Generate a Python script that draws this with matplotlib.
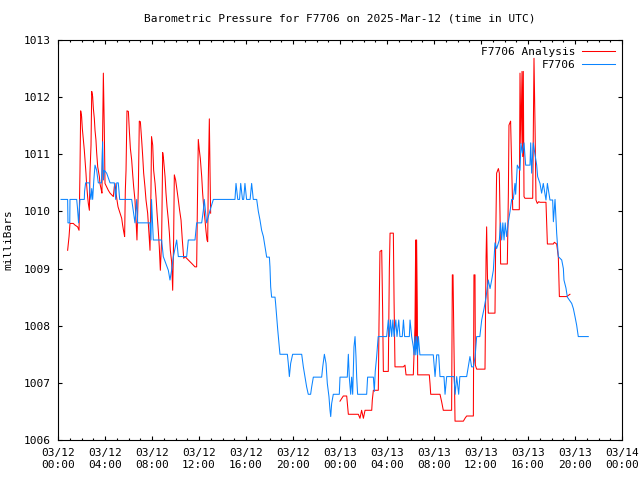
import matplotlib
matplotlib.use("Agg")
import matplotlib.pyplot as plt
import matplotlib.dates as mdates
import pandas as pd

plt.rcParams['font.family'] = ['DejaVu Sans Mono']

start = pd.Timestamp('2025-03-12 00:00')
end = pd.Timestamp('2025-03-14 00:00')

# hours after 03/12 00:00 UTC, pressure in mb
anal_hours_1 = [0.82, 0.94, 1.02, 1.30, 1.45, 1.67, 1.79, 1.87, 1.93, 2.01, 2.07, 2.16, 2.24, 2.30,
                2.38, 2.44, 2.52, 2.58, 2.67, 2.72, 2.81, 2.87, 2.95, 3.01, 3.09, 3.15, 3.23, 3.29,
                3.38, 3.52, 3.57, 3.66, 3.74, 3.80, 3.86, 3.94, 4.00, 4.14, 4.28, 4.43, 4.57, 4.71,
                4.79, 4.85, 4.94, 5.02, 5.11, 5.28, 5.42, 5.50, 5.59, 5.67, 5.73, 5.79, 5.87, 5.99,
                6.07, 6.16, 6.27, 6.36, 6.44, 6.55, 6.64, 6.72, 6.84, 6.92, 7.01, 7.12, 7.21, 7.29,
                7.40, 7.49, 7.63, 7.74, 7.83, 7.91, 7.96, 8.06, 8.14, 8.26, 8.34, 8.43, 8.54, 8.62,
                8.71, 8.82, 8.91, 8.99, 9.11, 9.19, 9.28, 9.39, 9.48, 9.56, 9.67, 9.76, 9.84, 9.90,
                10.01, 10.13, 10.24, 10.35, 10.47, 10.58, 10.70, 10.81, 11.09, 11.38, 11.66, 11.80,
                11.86, 11.94, 12.03, 12.11, 12.23, 12.31, 12.40, 12.51, 12.60, 12.68, 12.74, 12.79,
                12.88, 12.94, 12.99]
anal_mb_1 = [1009.32, 1009.56, 1009.79, 1009.79, 1009.76, 1009.73, 1009.67, 1010.70, 1011.76, 1011.66,
             1011.45, 1011.25, 1011.07, 1010.90, 1010.67, 1010.46, 1010.26, 1010.14, 1010.02, 1010.67,
             1011.16, 1012.10, 1012.01, 1011.80, 1011.63, 1011.42, 1011.25, 1011.03, 1010.78, 1010.61,
             1010.49, 1010.40, 1010.32, 1011.37, 1012.42, 1011.45, 1010.49, 1010.43, 1010.37, 1010.32,
             1010.29, 1010.26, 1010.43, 1010.49, 1010.32, 1010.20, 1010.08, 1009.97, 1009.88, 1009.76,
             1009.65, 1009.56, 1010.37, 1010.72, 1011.76, 1011.75, 1011.42, 1011.10, 1010.90, 1010.64,
             1010.43, 1010.20, 1009.85, 1009.50, 1010.43, 1011.58, 1011.57, 1011.25, 1010.96, 1010.67,
             1010.43, 1010.20, 1009.97, 1009.62, 1009.32, 1010.32, 1011.31, 1011.16, 1010.72, 1010.49,
             1010.26, 1009.97, 1009.65, 1009.38, 1008.97, 1009.50, 1011.03, 1010.90, 1010.61, 1010.32,
             1010.08, 1009.85, 1009.62, 1009.32, 1009.12, 1008.62, 1009.50, 1010.64, 1010.55, 1010.37,
             1010.20, 1010.02, 1009.85, 1009.50, 1009.18, 1009.21, 1009.15, 1009.09, 1009.03, 1009.03,
             1010.05, 1011.26, 1011.07, 1010.93, 1010.61, 1010.32, 1010.08, 1009.85, 1009.65, 1009.50,
             1009.47, 1010.55, 1011.62, 1010.67, 1009.97]

anal_hours_2 = [24.00, 24.28, 24.57, 24.71, 25.56, 25.70, 25.84, 25.99, 26.13, 26.70, 26.75, 26.84,
                27.26, 27.32, 27.40, 27.55, 27.63, 27.69, 28.11, 28.20, 28.26, 28.54, 28.60, 28.68,
                29.39, 29.53, 29.62, 30.24, 30.38, 30.44, 30.47, 30.50, 30.52, 30.58, 30.61, 31.60,
                31.66, 31.72, 32.51, 32.65, 32.79, 33.50, 33.56, 33.62, 33.70, 33.79, 34.50, 34.64,
                34.78, 35.35, 35.40, 35.49, 35.52, 35.63, 36.34, 36.43, 36.48, 36.54, 36.62, 37.19,
                37.25, 37.33, 37.48, 37.56, 37.62, 37.67, 38.24, 38.33, 38.38, 38.52, 38.61, 38.70,
                39.26, 39.32, 39.40, 39.49, 39.55, 39.60, 39.66, 39.74, 40.40, 40.51, 40.60, 40.68,
                40.79, 40.91, 41.02, 41.53, 41.65, 42.16, 42.24, 42.44, 42.58, 42.67, 43.29, 43.43,
                43.57]
anal_mb_2 = [1006.68, 1006.77, 1006.77, 1006.45, 1006.45, 1006.38, 1006.52, 1006.38, 1006.52, 1006.52,
             1006.70, 1006.87, 1006.87, 1008.04, 1009.30, 1009.32, 1008.25, 1007.20, 1007.20, 1009.00,
             1009.62, 1009.62, 1008.45, 1007.28, 1007.28, 1007.31, 1007.14, 1007.14, 1007.98, 1009.50,
             1007.60, 1009.50, 1009.50, 1008.30, 1007.14, 1007.14, 1006.99, 1006.80, 1006.80, 1006.67,
             1006.52, 1006.52, 1008.89, 1008.89, 1007.63, 1006.33, 1006.33, 1006.38, 1006.42, 1006.42,
             1008.89, 1008.89, 1007.31, 1007.24, 1007.24, 1009.18, 1009.73, 1008.97, 1008.22, 1008.22,
             1009.50, 1010.67, 1010.75, 1010.67, 1009.91, 1009.08, 1009.08, 1010.32, 1011.51, 1011.58,
             1010.78, 1010.03, 1010.03, 1012.42, 1011.19, 1012.45, 1010.96, 1012.45, 1010.26, 1010.23,
             1010.23, 1012.68, 1011.48, 1010.20, 1010.14, 1010.17, 1010.16, 1010.16, 1009.43, 1009.43,
             1009.46, 1009.43, 1009.21, 1008.51, 1008.51, 1008.53, 1008.55]

obs_hours = [0.26, 0.82, 0.85, 1.00, 1.02, 1.59, 1.65, 1.75, 1.87, 2.24, 2.26, 2.35, 2.67, 2.72,
             2.80, 2.87, 2.95, 3.05, 3.15, 3.29, 3.43, 3.70, 3.80, 3.87, 3.94, 4.14, 4.43, 4.79,
             4.91, 5.00, 5.13, 5.25, 6.27, 6.55, 6.70, 6.78, 7.83, 7.91, 7.96, 8.11, 8.82, 8.96,
             9.39, 9.53, 9.67, 9.82, 10.10, 10.24, 10.95, 11.09, 11.66, 11.80, 12.23, 12.37, 12.45,
             12.65, 12.94, 13.22, 15.06, 15.15, 15.30, 15.45, 15.55, 15.70, 15.80, 15.91, 16.05,
             16.35, 16.48, 16.62, 16.91, 17.05, 17.19, 17.33, 17.48, 17.62, 17.76, 17.99, 18.04,
             18.10, 18.18, 18.47, 18.52, 18.61, 18.70, 18.81, 18.89, 19.52, 19.60, 19.69, 19.80,
             19.97, 20.74, 20.88, 21.02, 21.16, 21.30, 21.50, 21.59, 21.73, 22.44, 22.53, 22.67,
             22.81, 22.92, 23.06, 23.15, 23.21, 23.29, 23.43, 23.94, 24.00, 24.62, 24.71, 24.79,
             24.91, 24.99, 25.08, 25.19, 25.28, 25.36, 25.42, 25.50, 26.27, 26.35, 26.84, 26.92,
             27.00, 27.12, 27.25, 27.97, 28.11, 28.20, 28.30, 28.40, 28.50, 28.60, 28.75, 28.85,
             29.00, 29.10, 29.30, 29.40, 29.50, 29.90, 29.96, 30.10, 30.24, 30.30, 30.38, 30.45,
             30.52, 30.60, 30.67, 30.80, 31.94, 32.09, 32.23, 32.40, 32.51, 32.85, 32.94, 33.08,
             33.70, 33.80, 33.93, 34.10, 34.20, 34.78, 34.92, 35.06, 35.20, 35.35, 35.50, 35.63,
             35.90, 36.06, 36.26, 36.43, 36.62, 36.77, 36.91, 37.05, 37.19, 37.33, 37.56, 37.66,
             37.76, 37.86, 37.96, 38.06, 38.18, 38.33, 38.47, 38.61, 38.75, 38.89, 38.95, 39.09,
             39.32, 39.40, 39.52, 39.66, 39.80, 40.17, 40.23, 40.31, 40.45, 40.60, 40.74, 40.82,
             41.02, 41.16, 41.30, 41.53, 41.65, 41.87, 42.10, 42.16, 42.30, 42.44, 42.58, 42.72,
             42.87, 43.01, 43.06, 43.23, 43.35, 43.52, 43.72, 43.86, 44.00, 44.14, 44.28, 45.13]
obs_mb = [1010.21, 1010.21, 1009.80, 1009.80, 1010.21, 1010.21, 1010.08, 1009.80, 1010.21, 1010.21,
          1010.35, 1010.50, 1010.50, 1010.32, 1010.21, 1010.40, 1010.21, 1010.55, 1010.81, 1010.72,
          1010.50, 1010.50, 1011.22, 1010.55, 1010.72, 1010.67, 1010.50, 1010.50, 1010.21, 1010.50,
          1010.50, 1010.21, 1010.21, 1009.80, 1010.21, 1009.80, 1009.80, 1009.50, 1010.21, 1009.50,
          1009.50, 1009.21, 1008.97, 1008.80, 1008.97, 1009.21, 1009.50, 1009.21, 1009.21, 1009.50,
          1009.50, 1009.80, 1009.80, 1010.02, 1010.21, 1009.80, 1010.02, 1010.21, 1010.21, 1010.49,
          1010.21, 1010.21, 1010.49, 1010.21, 1010.21, 1010.49, 1010.21, 1010.21, 1010.49, 1010.21,
          1010.21, 1010.00, 1009.85, 1009.67, 1009.56, 1009.38, 1009.20, 1009.20, 1009.03, 1008.68,
          1008.50, 1008.50, 1008.39, 1008.16, 1007.93, 1007.69, 1007.50, 1007.50, 1007.34, 1007.11,
          1007.34, 1007.50, 1007.50, 1007.28, 1007.11, 1006.93, 1006.80, 1006.80, 1006.93, 1007.10,
          1007.10, 1007.28, 1007.50, 1007.34, 1006.99, 1006.76, 1006.52, 1006.41, 1006.64, 1006.80,
          1006.80, 1007.10, 1007.10, 1007.50, 1007.10, 1006.80, 1007.10, 1006.80, 1007.63, 1007.81,
          1007.46, 1007.10, 1006.80, 1006.80, 1007.10, 1007.10, 1006.85, 1007.20, 1007.46, 1007.81,
          1007.81, 1008.10, 1007.81, 1008.10, 1007.81, 1008.10, 1007.81, 1008.10, 1007.81, 1008.10,
          1007.81, 1007.81, 1008.10, 1007.81, 1007.81, 1008.10, 1007.81, 1007.63, 1007.49, 1007.81,
          1007.49, 1007.81, 1007.49, 1007.81, 1007.49, 1007.49, 1007.11, 1007.49, 1007.49, 1007.11,
          1007.11, 1006.80, 1007.11, 1007.11, 1006.80, 1007.11, 1006.80, 1007.11, 1007.11, 1007.28,
          1007.46, 1007.28, 1007.28, 1007.46, 1007.81, 1007.81, 1008.10, 1008.30, 1008.50, 1008.80,
          1008.65, 1008.80, 1008.97, 1009.45, 1009.35, 1009.50, 1009.80, 1009.50, 1009.80, 1009.50,
          1009.80, 1009.56, 1009.82, 1010.00, 1010.21, 1010.21, 1010.49, 1010.30, 1010.81, 1010.72,
          1011.19, 1011.02, 1011.20, 1010.81, 1010.81, 1011.20, 1010.67, 1011.20, 1010.99, 1010.81,
          1010.61, 1010.49, 1010.32, 1010.49, 1010.20, 1010.49, 1010.20, 1010.20, 1009.82, 1010.21,
          1009.62, 1009.21, 1009.18, 1009.15, 1009.00, 1008.80, 1008.66, 1008.50, 1008.45, 1008.39,
          1008.30, 1008.16, 1008.01, 1007.81, 1007.81]


def to_time(hours):
    return start + pd.to_timedelta(hours, unit='h')


fig = plt.figure(figsize=(6.4, 4.8), dpi=100)
ax = fig.add_axes([58 / 640, 40 / 480, 564 / 640, 400 / 480])

ax.plot(to_time(anal_hours_1), anal_mb_1, color='#ff0000', lw=0.75, label='F7706 Analysis')
ax.plot(to_time(anal_hours_2), anal_mb_2, color='#ff0000', lw=0.75)
ax.plot(to_time(obs_hours), obs_mb, color='#0a84ff', lw=0.75, label='F7706')

ax.set_xlim(start, end)
ax.set_ylim(1006, 1013)
ax.set_yticks(range(1006, 1014))
ax.xaxis.set_major_locator(mdates.HourLocator(byhour=range(0, 24, 4)))
ax.xaxis.set_minor_locator(mdates.HourLocator())
ax.xaxis.set_major_formatter(mdates.DateFormatter('%m/%d\n%H:%M'))

ax.tick_params(which='both', direction='in', top=True, right=True, labelsize=8)
ax.tick_params(which='major', length=3.2, width=0.8)
ax.tick_params(which='minor', length=1.6, width=0.8)
ax.tick_params(axis='x', pad=6)
ax.tick_params(axis='y', pad=5)
for s in ax.spines.values():
    s.set_linewidth(0.8)

ax.set_title('Barometric Pressure for F7706 on 2025-Mar-12 (time in UTC)', fontsize=8, pad=13)
ax.set_ylabel('milliBars', fontsize=8, labelpad=8)
ax.legend(loc='upper right', frameon=False, markerfirst=False, fontsize=8,
          handlelength=3.0, handletextpad=0.6, labelspacing=0.3, borderaxespad=0.2)

fig.savefig('out.png', dpi=100)
